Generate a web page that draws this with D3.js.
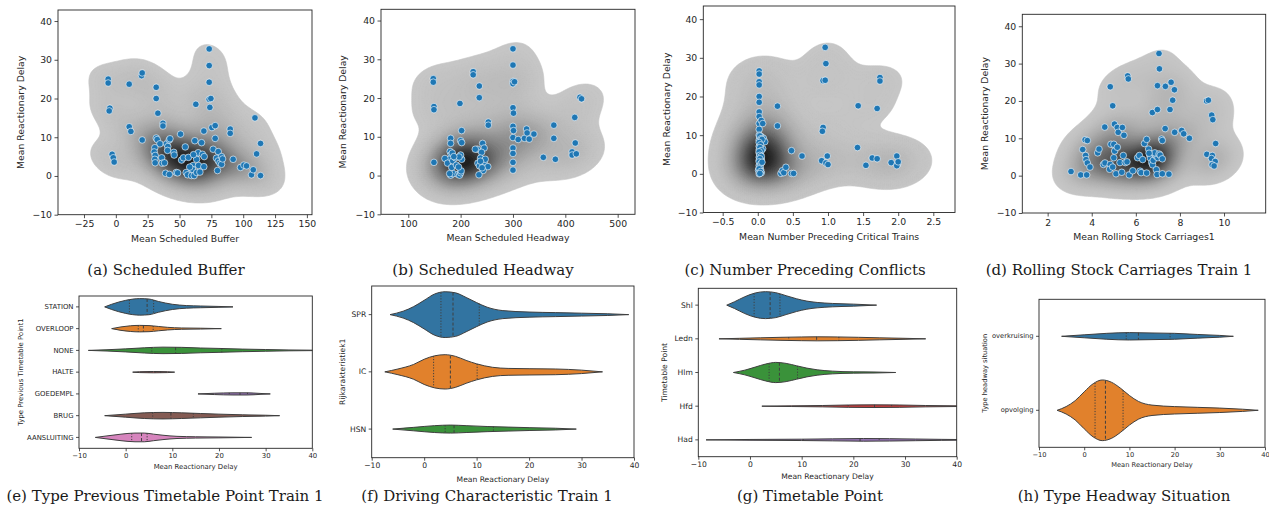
<!DOCTYPE html>
<html>
<head>
<meta charset="utf-8">
<script src="https://cdn.jsdelivr.net/npm/d3@7"></script>
<style>
body{margin:0;background:#fff;}
svg text{font-family:"DejaVu Sans",sans-serif;fill:#262626;}
.caption{font-family:"DejaVu Serif",serif;fill:#1a1a1a;font-size:15px;}
</style>
</head>
<body>
<svg id="fig" width="1269" height="518"></svg>
<script>
// ---- scatter data: [x, mean reactionary delay] ----
var bufferPts = [[-6,25],[-6,24],[-4.7,17.5],[-5.2,16.8],[-2.9,5.6],[-2,4.7],[-1.3,3.6],[10.5,23.7],[10.5,12.7],[11.8,11.5],
  [20.2,25.9],[20.7,26.6],[20.7,9.3],[31.7,22.9],[31.7,20],[33,16.2],[37,13.6],[37,12.9],[31.7,9.8],[32.5,9.4],
  [34.6,8.3],[30.6,7.3],[30.1,6.2],[30.9,5.3],[30.6,4.3],[30.9,3.4],[36,4.7],[36.4,3.3],[38.2,3.4],[39.8,8.3],
  [40.8,7.6],[40.6,6.6],[41.9,9.3],[42.5,9.6],[39,0.7],[42,0.4],[45.5,6.1],[45.8,5.4],[47.4,0.9],[48.5,0.8],
  [50.8,10.8],[51.6,4.1],[53.1,4.7],[54.5,7.5],[55.2,0.9],[56.3,0.3],[59.4,0.1],[60.7,2.7],[60.2,1.7],[61.5,0.1],
  [62.8,5.3],[63.4,4.3],[62,9.1],[62.8,18.5],[64.7,6],[64.9,2.7],[63.4,0.9],[67.3,8.6],[68,5.6],[69.4,5],
  [69.1,2.4],[69.1,11.6],[73.3,32.8],[73.3,28.5],[73.3,24.2],[73.3,19.8],[74.6,20],[73.8,17.7],[75.4,12.5],[78,13],
  [78,9.7],[76.4,6.9],[80.4,6.3],[79,4.6],[80.4,3.9],[81.7,3.3],[83,3],[83,5],[83.8,4.4],[79.8,1.4],
  [89.8,12.1],[89.8,11],[92.1,4.3],[97.9,2.2],[100.5,2.8],[102.6,2.6],[106.5,0.3],[107.9,1.6],[109.2,15],[110.5,5.7],
  [113.6,8.4],[113.6,0.1],[57,4.8],[58,2.3],[66,1],[61,5.5]];

var headwayPts = [[147.8,25],[147.8,24.1],[149,17.8],[149,17],[149,3.4],[224,26.8],[224,26],[235.7,23.1],[235.7,20.1],[198.7,18.6],
  [252.9,13.8],[252.9,13],[201.9,11.6],[180.9,9.6],[180.9,8.3],[200,9],[202,8.5],[180,6.2],[182,5.4],[178,4.2],
  [170,4.4],[175,3.2],[185,3.8],[190,4.6],[183,2.1],[181,0.1],[186,0.5],[192,2.7],[195,0.3],[198,0.1],
  [200,0.7],[202,4.2],[200,5.3],[197,4.8],[201,1.2],[232,6.8],[228,6.8],[242,8.3],[245,7.1],[240,6],
  [238,4.5],[233,3.2],[236,2.5],[245,3.5],[247,4.2],[252,2.3],[243,1.3],[235,0.2],[300,32.7],[300,28.5],
  [300,24.3],[300,23.7],[303,24.2],[300,17.5],[301,16.1],[300,12.7],[301,11.6],[300,9.8],[300,7.1],[300,5.7],
  [300,3.4],[300,1.4],[310,9.3],[322,9.6],[326,12],[327,11],[331,9.4],[340,10.7],[358,4.7],[378,13],
  [378,9.6],[381,4.2],[418,15],[419,8.4],[413,6.1],[413,5.3],[421,5.6],[428,20.2],[431,19.8],[184,5.8],
  [187,4.9],[179,0.5],[196,2.2],[241,2.0],[238,3.7]];

var conflictPts = [[0.02,26.6],[0.02,25.8],[0.02,23.8],[0.02,23],[0.02,20],[0.02,18.5],[0.02,16],[0.02,14.8],[0.02,13],[0.02,11.5],
  [0.02,10],[0.03,9.3],[0.02,8.7],[0.02,7.1],[0.02,6.2],[0.02,5.4],[0.02,4.3],[0.02,3.5],[0.03,2.7],[0.02,1.5],
  [0.03,0.8],[0.02,0],[0.04,0.3],[0.05,13.8],[0.07,13],[0.05,9.6],[0.08,9.2],[0.1,8.3],[0.07,6.5],[0.05,3.8],
  [0.04,1.1],[0.05,0.3],[0.01,0.9],[0.03,7.8],[0.04,5],[0.02,2.2],[0.28,17.5],[0.28,12.4],[0.33,0.1],[0.35,0.8],
  [0.37,0.3],[0.4,1.7],[0.48,6],[0.48,0.1],[0.51,0.1],[0.63,4.6],[0.96,32.7],[0.97,28.5],[0.93,24.1],[0.96,24.2],
  [0.93,12],[0.92,11],[0.91,3.4],[0.97,2.8],[0.99,4.6],[1.0,2.4],[1.42,6.8],[1.43,17.6],[1.54,2.2],[1.63,4.1],
  [1.7,3.9],[1.7,16.9],[1.74,24.9],[1.74,24],[1.9,2.9],[1.98,4.6],[1.99,2.4],[1.98,2.1],[2.0,3.1],
  [0.03,9.8],[0.05,9.1],[0.06,8.9],[0.02,8.1],[0.04,7.5],[0.03,6.8],[0.05,6.0],[0.02,5.7],[0.03,4.8],[0.05,4.5],
  [0.03,3.9],[0.02,3.1],[0.04,2.5],[0.03,1.8],[0.02,1.3],[0.04,0.6],[0.03,0.1],[0.06,3.0]];

var carriagePts = [[3.06,1.1],[3.5,0.2],[3.77,0.2],[3.59,7],[3.7,9.6],[3.8,9.4],[3.72,5.4],[3.74,4.3],[3.8,3.4],[3.92,2.3],
  [4.27,6.1],[4.33,7.1],[4.53,3],[4.6,3.4],[4.59,13],[4.84,23.8],[4.95,18.7],[4.87,8.4],[5,8.4],[4.84,3],
  [4.81,1.7],[4.95,2.3],[5,4.8],[5.04,6.6],[5.03,13.8],[5.16,12.9],[5.2,11.6],[5.1,0.5],[5.16,7.6],[5.28,3.5],
  [5.39,12.9],[5.46,10.8],[5.43,5.4],[5.52,3.5],[5.6,3.7],[5.36,0.9],[5.7,0.2],[5.63,26.7],[5.66,25.9],[5.86,1.3],
  [6.08,4.8],[6.16,5.4],[6.19,1.2],[6.24,0.8],[6.31,4.3],[6.39,8.6],[6.49,9.7],[6.49,0.7],[6.58,7.1],[6.64,5.3],
  [6.66,4.7],[6.72,3.5],[6.76,2.9],[6.79,4.1],[6.86,5.7],[6.93,5.2],[7.0,4.8],[6.86,6.1],[6.93,1.6],[7.05,5.8],
  [7.1,5.5],[6.75,16.9],[6.98,24.1],[6.98,17.7],[7.05,32.7],[7.07,28.6],[6.96,0.3],[7.17,9.8],[7.2,9.4],[7.2,0.5],
  [7.33,12.6],[7.34,23.9],[7.6,25],[7.75,23],[7.67,20.2],[7.55,17.7],[7.5,0.4],[7.76,11.6],[8.08,12.1],[8.17,11.2],
  [8.43,10],[9.21,20],[9.29,20.2],[9.44,16.2],[9.49,15],[9.22,5.7],[9.47,5.4],[9.43,4.6],[9.6,3.8],[9.62,8.6],
  [9.46,2.9],[9.55,2.6],[7.2,4.5],[6.6,6.0]];

// ---- violin data: outline as [delay, half width (share of band)], quartiles [q1, median, q3] ----
var typePrevCats = ["STATION","OVERLOOP","NONE","HALTE","GOEDEMPL","BRUG","AANSLUITING"];
var typePrevShapes = [
  [[-4.5,0],[-3,0.12],[0,0.3],[3,0.38],[5,0.36],[7,0.25],[10,0.12],[13,0.06],[16,0.04],[20,0.02],[23,0]],
  [[-3,0],[-1,0.08],[1,0.13],[3,0.15],[5,0.14],[7,0.1],[9,0.06],[12,0.03],[16,0.02],[20.5,0]],
  [[-8,0],[-4,0.03],[0,0.07],[4,0.12],[8,0.15],[12,0.14],[16,0.11],[20,0.09],[25,0.06],[30,0.04],[35,0.02],[40,0.01],[45,0]],
  [[1.5,0],[3,0.02],[6,0.03],[9,0.02],[10.5,0]],
  [[15.5,0],[19,0.03],[23,0.05],[26,0.05],[29,0.02],[31,0]],
  [[-4.5,0],[0,0.07],[4,0.13],[8,0.15],[12,0.13],[16,0.1],[20,0.07],[25,0.04],[30,0.02],[33,0]],
  [[-6.5,0],[-4,0.07],[-1,0.15],[2,0.2],[4,0.2],[6,0.15],[8,0.1],[11,0.05],[15,0.03],[20,0.02],[27,0]]];
var typePrevQuarts = [[0.8,4.6,6.0],[2.7,3.8,5.9],[5.6,10.7,20.6],[5,6.3,7.5],[22.2,24.5,26.1],[5.8,9.7,14.5],[1.3,3.4,4.6]];

var drivingCats = ["SPR","IC","HSN"];
var drivingShapes = [
  [[-6.5,0],[-4,0.06],[-2,0.14],[0,0.25],[2,0.36],[4,0.4],[6,0.38],[8,0.3],[10,0.21],[12,0.13],[15,0.07],[20,0.045],[25,0.035],[30,0.025],[35,0.015],[39,0]],
  [[-7.5,0],[-5,0.05],[-2,0.13],[0,0.22],[2,0.28],[4,0.3],[6,0.27],[8,0.2],[10,0.14],[13,0.08],[16,0.06],[20,0.055],[25,0.05],[30,0.03],[34,0]],
  [[-6,0],[-2,0.03],[2,0.06],[5,0.07],[8,0.06],[12,0.045],[16,0.035],[20,0.025],[25,0.015],[29,0]]];
var drivingQuarts = [[3.2,5.5,10.5],[1.8,5.0,10.1],[4,5.7,13.2]];

var pointCats = ["Shl","Ledn","Hlm","Hfd","Had"];
var pointShapes = [
  [[-4.5,0],[-3,0.1],[-1,0.25],[1,0.36],[3,0.4],[5,0.37],[7,0.28],[9,0.19],[11,0.12],[13,0.08],[16,0.05],[20,0.03],[24.5,0]],
  [[-6,0],[-2,0.015],[2,0.03],[6,0.045],[10,0.055],[13,0.06],[17,0.055],[21,0.045],[25,0.03],[30,0.015],[34,0]],
  [[-3.2,0],[-1,0.07],[1,0.16],[3,0.25],[5,0.3],[7,0.27],[9,0.2],[11,0.13],[13,0.08],[16,0.04],[20,0.02],[24,0.015],[28.2,0]],
  [[2.3,0],[8,0.01],[14,0.02],[19,0.035],[24,0.04],[29,0.035],[34,0.02],[40,0.01],[45,0]],
  [[-8.5,0],[0,0.012],[10,0.02],[16,0.03],[22,0.04],[27,0.035],[32,0.025],[37,0.015],[42,0.008],[46,0]]];
var pointQuarts = [[0.8,3.9,5.8],[7.5,12.9,17.2],[3.7,5.7,9.2],[19,24.1,27.4],[10.3,21.3,25]];

var headwayCats = ["overkruising","opvolging"];
var headwayShapes = [
  [[-5,0],[0,0.02],[5,0.04],[10,0.05],[15,0.045],[20,0.04],[25,0.025],[30,0.012],[33,0]],
  [[-6,0],[-4,0.05],[-2,0.13],[0,0.25],[2,0.36],[4,0.41],[6,0.38],[8,0.3],[10,0.2],[12,0.12],[15,0.07],[20,0.05],[25,0.04],[30,0.03],[35,0.015],[38.5,0]]];
var headwayQuarts = [[9.3,12,19],[2.4,4.7,8.6]];

var delayTicks = [-10,0,10,20,30,40];
var palette = ["#3274a1","#e1812c","#3a923a","#c03d3e","#9372b2","#845b53","#d684bd"];

var svg = d3.select("#fig");
var clipId = 0;

function styleAxis(ax, fs) {
  ax.select(".domain").remove();
  ax.selectAll("line").attr("stroke", "#262626").attr("stroke-width", 0.8);
  ax.selectAll("text").style("font-size", fs + "px").attr("fill", "#262626");
}

function frame(g, w, h) {
  g.append("rect").attr("width", w).attr("height", h)
    .attr("fill", "none").attr("stroke", "#262626").attr("stroke-width", 0.9);
}

// gaussian kde (scott bandwidth, full covariance) on a pixel grid, drawn as filled contours
function kdeLayer(g, pts, x, y, w, h) {
  var n = pts.length;
  var mx = d3.mean(pts, d => d[0]), my = d3.mean(pts, d => d[1]);
  var sxx = d3.sum(pts, d => (d[0] - mx) * (d[0] - mx)) / (n - 1);
  var syy = d3.sum(pts, d => (d[1] - my) * (d[1] - my)) / (n - 1);
  var sxy = d3.sum(pts, d => (d[0] - mx) * (d[1] - my)) / (n - 1);
  var f2 = Math.pow(n, -1 / 3);
  var a = sxx * f2, b = sxy * f2, c = syy * f2, det = a * c - b * b;
  var ia = c / det, ib = -b / det, ic = a / det;
  var cell = 2, gw = Math.ceil(w / cell) + 1, gh = Math.ceil(h / cell) + 1;
  var vals = new Float64Array(gw * gh);
  for (var j = 0; j < gh; j++) {
    var vy = y.invert(j * cell);
    for (var i = 0; i < gw; i++) {
      var vx = x.invert(i * cell), s = 0;
      for (var k = 0; k < n; k++) {
        var dx = vx - pts[k][0], dy = vy - pts[k][1];
        s += Math.exp(-0.5 * (ia * dx * dx + 2 * ib * dx * dy + ic * dy * dy));
      }
      vals[j * gw + i] = s;
    }
  }
  var sorted = Array.from(vals).sort((p, q) => q - p);
  var total = d3.sum(sorted), cum = [], run = 0;
  sorted.forEach(v => { run += v; cum.push(run / total); });
  function levelAt(p) {
    var idx = d3.bisectLeft(cum, 1 - p);
    return sorted[Math.min(idx, sorted.length - 1)];
  }
  var thresh = 0.05, nLev = 60;
  var levels = d3.range(nLev).map(k => levelAt(thresh + (1 - thresh) * k / nLev));
  levels = Array.from(new Set(levels)).sort((p, q) => p - q);
  var lmin = levels[0], lmax = sorted[0];
  var ramp = d3.interpolateRgb("#c6c6c6", "#1a1a1a");
  var shade = v => ramp(Math.pow((v - lmin) / (lmax - lmin), 1.35));
  var path = d3.geoPath(d3.geoIdentity().scale(cell));
  var contours = d3.contours().size([gw, gh]).thresholds(levels)(vals);
  g.append("g").selectAll("path").data(contours).join("path")
    .attr("d", path)
    .attr("fill", d => shade(d.value))
    .attr("stroke", d => shade(d.value))
    .attr("stroke-width", 0.6);
}

function scatterPanel(o) {
  var w = o.right - o.left, h = o.bottom - o.top;
  var g = svg.append("g").attr("transform", "translate(" + o.left + "," + o.top + ")");
  var x = d3.scaleLinear().domain(o.xDomain).range([0, w]);
  var y = d3.scaleLinear().domain(o.yDomain).range([h, 0]);
  var id = "clip" + (clipId++);
  g.append("clipPath").attr("id", id).append("rect").attr("width", w).attr("height", h);
  var inner = g.append("g").attr("clip-path", "url(#" + id + ")");
  kdeLayer(inner, o.pts, x, y, w, h);
  inner.append("g").selectAll("circle").data(o.pts).join("circle")
    .attr("cx", d => x(d[0])).attr("cy", d => y(d[1])).attr("r", 3.3)
    .attr("fill", "#1f77b4").attr("stroke", "#fff").attr("stroke-width", 0.6);

  var ax = g.append("g").attr("transform", "translate(0," + h + ")")
    .call(d3.axisBottom(x).tickValues(o.xTicks).tickFormat(o.xFmt).tickSize(3.5).tickPadding(2.5));
  styleAxis(ax, 9.3);
  var ay = g.append("g")
    .call(d3.axisLeft(y).tickValues([-10,0,10,20,30,40]).tickFormat(d3.format("d")).tickSize(3.5).tickPadding(2.5));
  styleAxis(ay, 9.3);
  frame(g, w, h);
  g.append("text").attr("x", w / 2).attr("y", h + 27).attr("text-anchor", "middle")
    .style("font-size", "9.3px").text(o.xLabel);
  g.append("text").attr("transform", "translate(" + (o.yLabelX - o.left) + "," + (h / 2) + ") rotate(-90)")
    .attr("text-anchor", "middle").style("font-size", "9.3px").text("Mean Reactionary Delay");
  svg.append("text").attr("class", "caption").attr("x", o.capX).attr("y", 275)
    .attr("text-anchor", "middle").text(o.caption);
}

function lerpProfile(prof, v) {
  for (var i = 1; i < prof.length; i++) {
    if (v <= prof[i][0]) {
      var t = (v - prof[i - 1][0]) / (prof[i][0] - prof[i - 1][0]);
      return prof[i - 1][1] + t * (prof[i][1] - prof[i - 1][1]);
    }
  }
  return 0;
}

function violinPanel(o) {
  var w = o.right - o.left, h = o.bottom - o.top;
  var g = svg.append("g").attr("transform", "translate(" + o.left + "," + o.top + ")");
  var x = d3.scaleLinear().domain([-10, 40]).range([0, w]);
  var y = d3.scaleBand().domain(o.cats).range([0, h]);
  var bw = y.bandwidth();
  var id = "clip" + (clipId++);
  g.append("clipPath").attr("id", id).append("rect").attr("width", w).attr("height", h);
  var inner = g.append("g").attr("clip-path", "url(#" + id + ")");
  o.shapes.forEach(function(prof, k) {
    var yc = y(o.cats[k]) + bw / 2;
    var area = d3.area().x(d => x(d[0])).y0(d => yc - d[1] * bw).y1(d => yc + d[1] * bw)
      .curve(d3.curveMonotoneX);
    inner.append("path").attr("d", area(prof)).attr("fill", palette[k])
      .attr("stroke", "#3f3f3f").attr("stroke-width", 1);
    o.quarts[k].forEach(function(q, qi) {
      var hw = lerpProfile(prof, q) * bw;
      inner.append("line").attr("x1", x(q)).attr("x2", x(q)).attr("y1", yc - hw).attr("y2", yc + hw)
        .attr("stroke", "#3f3f3f").attr("stroke-width", 1)
        .attr("stroke-dasharray", qi === 1 ? "3,2" : "1.2,1.6");
    });
  });
  var ax = g.append("g").attr("transform", "translate(0," + h + ")")
    .call(d3.axisBottom(x).tickValues(delayTicks).tickFormat(d3.format("d")).tickSize(3).tickPadding(2));
  styleAxis(ax, o.fs);
  var ay = g.append("g").call(d3.axisLeft(y).tickSize(3).tickPadding(2.5));
  styleAxis(ay, o.fs);
  frame(g, w, h);
  g.append("text").attr("x", w / 2).attr("y", h + o.xLabelDy).attr("text-anchor", "middle")
    .style("font-size", o.fs + "px").text("Mean Reactionary Delay");
  g.append("text").attr("transform", "translate(" + (o.yLabelX - o.left) + "," + (h / 2) + ") rotate(-90)")
    .attr("text-anchor", "middle").style("font-size", o.fs + "px").text(o.yLabel);
  svg.append("text").attr("class", "caption").attr("x", o.capX).attr("y", 501)
    .attr("text-anchor", "middle").text(o.caption);
}

var fmtInt = d3.format("d"), fmt1 = d3.format(".1f");

scatterPanel({left: 58, right: 312, top: 10, bottom: 214.7, xDomain: [-45.4, 154], yDomain: [-10, 42.85],
  xTicks: [-25,0,25,50,75,100,125,150], xFmt: fmtInt, pts: bufferPts, xLabel: "Mean Scheduled Buffer",
  yLabelX: 24, capX: 166, caption: "(a) Scheduled Buffer"});
scatterPanel({left: 381, right: 635, top: 9.3, bottom: 214.3, xDomain: [47.9, 533.1], yDomain: [-10, 42.9],
  xTicks: [100,200,300,400,500], xFmt: fmtInt, pts: headwayPts, xLabel: "Mean Scheduled Headway",
  yLabelX: 346, capX: 483, caption: "(b) Scheduled Headway"});
scatterPanel({left: 703.3, right: 955, top: 6, bottom: 212.5, xDomain: [-0.776, 2.809], yDomain: [-10, 43.4],
  xTicks: [-0.5,0,0.5,1,1.5,2,2.5], xFmt: fmt1, pts: conflictPts, xLabel: "Mean Number Preceding Critical Trains",
  yLabelX: 670, capX: 805, caption: "(c) Number Preceding Conflicts"});
scatterPanel({left: 1022.3, right: 1265.7, top: 14.3, bottom: 213, xDomain: [0.85, 11.89], yDomain: [-10, 43.2],
  xTicks: [2,4,6,8,10], xFmt: fmtInt, pts: carriagePts, xLabel: "Mean Rolling Stock Carriages1",
  yLabelX: 988, capX: 1119, caption: "(d) Rolling Stock Carriages Train 1"});

violinPanel({left: 79, right: 312.3, top: 296, bottom: 448.3, cats: typePrevCats, shapes: typePrevShapes,
  quarts: typePrevQuarts, fs: 6.9, xLabelDy: 21, yLabel: "Type Previous Timetable Point1", yLabelX: 23,
  capX: 165, caption: "(e) Type Previous Timetable Point Train 1"});
violinPanel({left: 371.7, right: 634, top: 286, bottom: 457.7, cats: drivingCats, shapes: drivingShapes,
  quarts: drivingQuarts, fs: 7.6, xLabelDy: 24, yLabel: "Rijkarakteristiek1", yLabelX: 345,
  capX: 487, caption: "(f) Driving Characteristic Train 1"});
violinPanel({left: 698.3, right: 956.7, top: 288.3, bottom: 456.7, cats: pointCats, shapes: pointShapes,
  quarts: pointQuarts, fs: 7.6, xLabelDy: 22, yLabel: "Timetable Point", yLabelX: 667,
  capX: 810, caption: "(g) Timetable Point"});
violinPanel({left: 1039, right: 1265, top: 299.3, bottom: 447.3, cats: headwayCats, shapes: headwayShapes,
  quarts: headwayQuarts, fs: 6.7, xLabelDy: 20, yLabel: "Type headway situation", yLabelX: 987,
  capX: 1124, caption: "(h) Type Headway Situation"});
</script>
</body>
</html>
